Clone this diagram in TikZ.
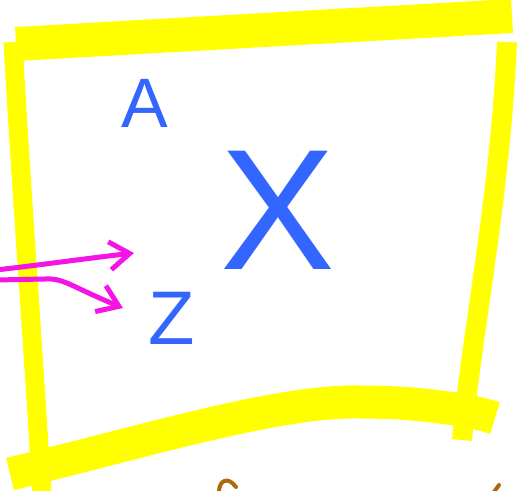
\documentclass[tikz,border=0pt]{standalone}
\usepackage{fontspec}
\setsansfont{Liberation Sans}
\usepackage{xcolor}
\usetikzlibrary{arrows.meta, positioning}

\definecolor{hiyellow}{RGB}{255,255,0}
\definecolor{penblue}{RGB}{51,102,255}
\definecolor{penpink}{RGB}{245,20,230}
\definecolor{penbrown}{RGB}{175,105,10}

\begin{document}
\begin{tikzpicture}[x=1pt, y=-1pt,
    frame/.style={draw=hiyellow, line cap=butt},
    letter/.style={text=penblue, inner sep=0pt, font=\sffamily},
    pinkarrow/.style={draw=penpink, line width=5pt, line cap=round, line join=round,
        -{Straight Barb[length=20pt, width=28pt]}},
    brownpen/.style={draw=penbrown, line width=4pt, line cap=round}
]
    \clip (0,0) rectangle (519,490);

    % YELLOW FRAME
    \draw[frame, line width=34pt] (16,44) -- (512,16);
    \draw[frame, line width=19pt] (13,42) .. controls (22,200) and (32,330) .. (42,495);
    \draw[frame, line width=20pt] (507,42) .. controls (500,200) and (472,330) .. (462,440);
    \draw[frame, line width=33pt] (10,474) .. controls (150,440) and (280,400) .. (360,402)
        .. controls (420,402) and (470,410) .. (495,418);

    % LETTERS
    \node[letter, font=\sffamily\fontsize{70}{70}\selectfont] (A) at (145,103) {A};
    \node[letter, font=\sffamily\fontsize{172}{172}\selectfont] (X) at (278,210) {X};
    \node[letter, font=\sffamily\fontsize{76}{76}\selectfont] (Z) at (172,318) {Z};

    % PINK ARROWS
    \coordinate (inA) at (-4,270);
    \coordinate (tipA) at (134,253);
    \coordinate (inZ) at (-4,280);
    \coordinate (tipZ) at (123,308);
    \draw[pinkarrow] (inA) .. controls (40,265) and (90,258) .. (tipA);
    \draw[pinkarrow] (inZ) -- (45,279) .. controls (64,278) and (70,286) .. (tipZ);

    % BROWN BITS
    \draw[brownpen] (219,492) .. controls (219,480) and (228,476) .. (236,487);
    \draw[brownpen] (494,492) -- (499,485);
\end{tikzpicture}
\end{document}
